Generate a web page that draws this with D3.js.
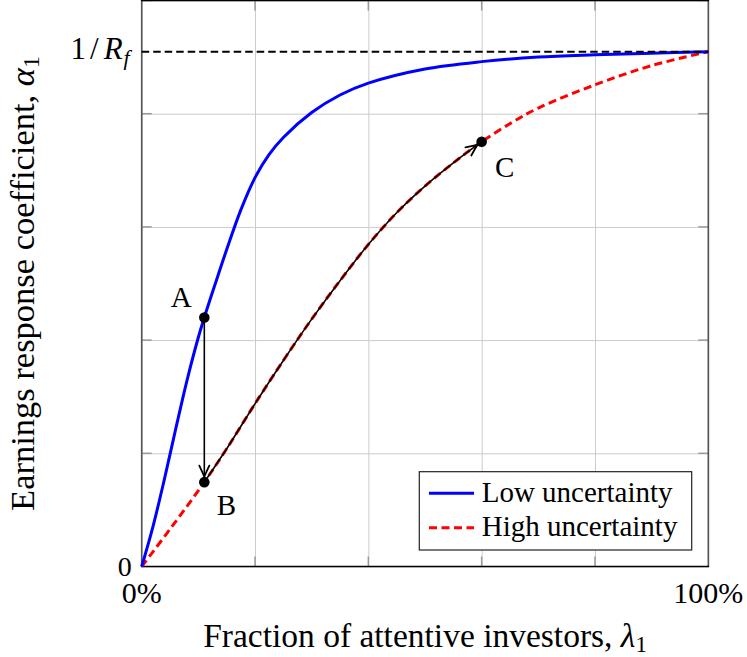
<!DOCTYPE html>
<html>
<head>
<meta charset="utf-8">
<script src="https://cdn.jsdelivr.net/npm/d3@7"></script>
<style>
  body { margin: 0; background: #fff; }
  text { font-family: "Liberation Serif", "Times New Roman", serif; fill: #000; }
</style>
</head>
<body>
<svg id="chart"></svg>
<script>
var WIDTH = 747;
var HEIGHT = 657;

// curves (lambda_1 -> alpha_1, with 1/R_f about 0.91)
var lowX  = [0, 0.02, 0.04, 0.06, 0.08, 0.1, 0.1105, 0.13, 0.15, 0.175, 0.2, 0.225, 0.25, 0.3, 0.35, 0.4, 0.5, 0.6, 0.7, 0.8, 0.9, 1.0];
var lowY  = [0, 0.071, 0.154, 0.243, 0.329, 0.405, 0.440, 0.500, 0.560, 0.630, 0.687, 0.728, 0.758, 0.802, 0.833, 0.854, 0.879, 0.892, 0.900, 0.904, 0.907, 0.9095];
var highX = [0, 0.05, 0.1105, 0.15, 0.2, 0.25, 0.3, 0.35, 0.4, 0.45, 0.5, 0.55, 0.6, 0.656, 0.7, 0.8, 0.9, 1.0];
var highY = [0, 0.066, 0.149, 0.208, 0.2876, 0.364, 0.437, 0.505, 0.569, 0.625, 0.672, 0.713, 0.7505, 0.786, 0.810, 0.851, 0.885, 0.9095];

var seriesNames = ["Low uncertainty", "High uncertainty"];
var pointNames = ["A", "B", "C"];
var pointX = [0.1105, 0.1105, 0.600];
var pointY = [0.440, 0.149, 0.7505];

var gridTicks = [0, 0.2, 0.4, 0.6, 0.8, 1];
var xTickValues = [0, 1];
var xTickLabels = ["0%", "100%"];
var invRf = 0.9095;

var x = d3.scaleLinear().domain([0, 1]).range([141.7, 708.3]);
var y = d3.scaleLinear().domain([0, 1]).range([566.5, 0.5]);

var svg = d3.select("#chart").attr("width", WIDTH).attr("height", HEIGHT);

var defs = svg.append("defs");
defs.append("marker")
    .attr("id", "arrow")
    .attr("viewBox", "-14 -7 20 14")
    .attr("markerWidth", 20)
    .attr("markerHeight", 14)
    .attr("markerUnits", "userSpaceOnUse")
    .attr("refX", 5.5)
    .attr("refY", 0)
    .attr("orient", "auto")
  .append("path")
    .attr("d", "M-11,-5 Q-3.5,-1.5 0,0 Q-3.5,1.5 -11,5")
    .attr("fill", "none")
    .attr("stroke", "#000")
    .attr("stroke-width", 1.8)
    .attr("stroke-linecap", "round");

// grid
svg.append("g")
    .attr("transform", "translate(0," + y(0) + ")")
    .call(d3.axisBottom(x).tickValues(gridTicks).tickSize(-(y(0) - y(1))).tickFormat(""))
    .call(function(g) { g.select(".domain").remove(); })
    .selectAll("line").attr("stroke", "#cccccc").attr("stroke-width", 1);
svg.append("g")
    .attr("transform", "translate(" + x(0) + ",0)")
    .call(d3.axisLeft(y).tickValues(gridTicks).tickSize(-(x(1) - x(0))).tickFormat(""))
    .call(function(g) { g.select(".domain").remove(); })
    .selectAll("line").attr("stroke", "#cccccc").attr("stroke-width", 1);

// small inner ticks on all four sides
var tickG = svg.append("g").attr("stroke", "#9a9a9a").attr("stroke-width", 1.5);
gridTicks.slice(1, -1).forEach(function(t) {
    tickG.append("line").attr("x1", x(t)).attr("x2", x(t)).attr("y1", y(0)).attr("y2", y(0) - 10);
    tickG.append("line").attr("x1", x(t)).attr("x2", x(t)).attr("y1", y(1)).attr("y2", y(1) + 10);
});
gridTicks.slice(1).forEach(function(t) {
    tickG.append("line").attr("x1", x(0)).attr("x2", x(0) + 10).attr("y1", y(t)).attr("y2", y(t));
    tickG.append("line").attr("x1", x(1)).attr("x2", x(1) - 10).attr("y1", y(t)).attr("y2", y(t));
});

// frame
svg.append("line").attr("x1", x(0)).attr("x2", x(0)).attr("y1", y(0)).attr("y2", y(1))
    .attr("stroke", "#555").attr("stroke-width", 1.6);
svg.append("line").attr("x1", x(1)).attr("x2", x(1)).attr("y1", y(0)).attr("y2", y(1))
    .attr("stroke", "#555").attr("stroke-width", 1.6);
svg.append("line").attr("x1", x(0) - 0.8).attr("x2", x(1) + 0.8).attr("y1", y(0)).attr("y2", y(0))
    .attr("stroke", "#000").attr("stroke-width", 1.6);
svg.append("line").attr("x1", x(0) - 0.8).attr("x2", x(1) + 0.8).attr("y1", y(1)).attr("y2", y(1))
    .attr("stroke", "#000").attr("stroke-width", 1.6);

var line = d3.line()
    .x(function(d) { return x(d[0]); })
    .y(function(d) { return y(d[1]); })
    .curve(d3.curveCatmullRom.alpha(0.5));

var lowData = lowX.map(function(v, i) { return [v, lowY[i]]; });
var highData = highX.map(function(v, i) { return [v, highY[i]]; });

svg.append("path").datum(highData)
    .attr("d", line)
    .attr("fill", "none")
    .attr("stroke", "#ff0000")
    .attr("stroke-width", 3)
    .attr("stroke-dasharray", "8,4.5");

svg.append("path").datum(lowData)
    .attr("d", line)
    .attr("fill", "none")
    .attr("stroke", "#0000ff")
    .attr("stroke-width", 3);

// 1/R_f reference line
svg.append("line")
    .attr("x1", x(0)).attr("x2", x(1))
    .attr("y1", y(invRf)).attr("y2", y(invRf))
    .attr("stroke", "#000")
    .attr("stroke-width", 2)
    .attr("stroke-dasharray", "7.5,4");

// arrows A -> B and B -> C (along the high-uncertainty curve)
svg.append("line")
    .attr("x1", x(pointX[0])).attr("x2", x(pointX[1]))
    .attr("y1", y(pointY[0])).attr("y2", y(pointY[1]))
    .attr("stroke", "#000")
    .attr("stroke-width", 1.6)
    .attr("marker-end", "url(#arrow)");

var bcData = highData.filter(function(d) { return d[0] >= pointX[1] && d[0] <= pointX[2]; });
svg.append("path").datum(bcData)
    .attr("d", line)
    .attr("fill", "none")
    .attr("stroke", "#000")
    .attr("stroke-width", 1.6)
    .attr("marker-end", "url(#arrow)");

// points and labels
var labelDx = [-23, 22, 23];
var labelDy = [-10, 33, 35];
svg.selectAll("circle.pt")
    .data(pointNames)
    .enter()
    .append("circle")
    .attr("class", "pt")
    .attr("cx", function(d, i) { return x(pointX[i]); })
    .attr("cy", function(d, i) { return y(pointY[i]); })
    .attr("r", 5.3)
    .attr("fill", "#000");
svg.selectAll("text.pt")
    .data(pointNames)
    .enter()
    .append("text")
    .attr("class", "pt")
    .attr("x", function(d, i) { return x(pointX[i]) + labelDx[i]; })
    .attr("y", function(d, i) { return y(pointY[i]) + labelDy[i]; })
    .attr("text-anchor", "middle")
    .attr("font-size", 29)
    .text(function(d) { return d; });

// tick labels
svg.selectAll("text.xtick")
    .data(xTickValues)
    .enter()
    .append("text")
    .attr("class", "xtick")
    .attr("x", function(d) { return x(d); })
    .attr("y", 603)
    .attr("text-anchor", "middle")
    .attr("font-size", 30)
    .text(function(d, i) { return xTickLabels[i]; });

svg.append("text")
    .attr("x", x(0) - 10)
    .attr("y", y(0) + 9)
    .attr("text-anchor", "end")
    .attr("font-size", 28)
    .text("0");

var rf = svg.append("text")
    .attr("x", x(0) - 12)
    .attr("y", y(invRf) + 7)
    .attr("text-anchor", "end")
    .attr("font-size", 31);
rf.append("tspan").attr("letter-spacing", 4).text("1/");
rf.append("tspan").attr("font-style", "italic").attr("dx", 1).text("R");
rf.append("tspan").attr("font-style", "italic").attr("font-size", 22).attr("dy", 6).attr("dx", 1).text("f");

// axis titles
var xt = svg.append("text")
    .attr("x", (x(0) + x(1)) / 2)
    .attr("y", 647)
    .attr("text-anchor", "middle")
    .attr("font-size", 33.5);
xt.append("tspan").text("Fraction of attentive investors, ");
xt.append("tspan").attr("font-style", "italic").text("λ");
xt.append("tspan").attr("font-size", 23).attr("dy", 5).text("1");

var yt = svg.append("text")
    .attr("transform", "translate(34," + ((y(0) + y(1)) / 2) + ") rotate(-90)")
    .attr("text-anchor", "middle")
    .attr("font-size", 34.5);
yt.append("tspan").text("Earnings response coefficient, ");
yt.append("tspan").attr("font-style", "italic").text("α");
yt.append("tspan").attr("font-size", 24).attr("dy", 5).text("1");

// legend
var legend = svg.append("g");
legend.append("rect")
    .attr("x", 419.3).attr("y", 471.7)
    .attr("width", 272.4).attr("height", 78.3)
    .attr("fill", "#fff")
    .attr("stroke", "#222")
    .attr("stroke-width", 1.2);
var legendColors = ["#0000ff", "#ff0000"];
var legendDash = [null, "8,4.5"];
seriesNames.forEach(function(name, i) {
    var ly = 493.3 + i * 34.4;
    legend.append("line")
        .attr("x1", 429).attr("x2", 474)
        .attr("y1", ly).attr("y2", ly)
        .attr("stroke", legendColors[i])
        .attr("stroke-width", 3)
        .attr("stroke-dasharray", legendDash[i]);
    legend.append("text")
        .attr("x", 481.7)
        .attr("y", ly + 8.4)
        .attr("font-size", 29)
        .text(name);
});
</script>
</body>
</html>
